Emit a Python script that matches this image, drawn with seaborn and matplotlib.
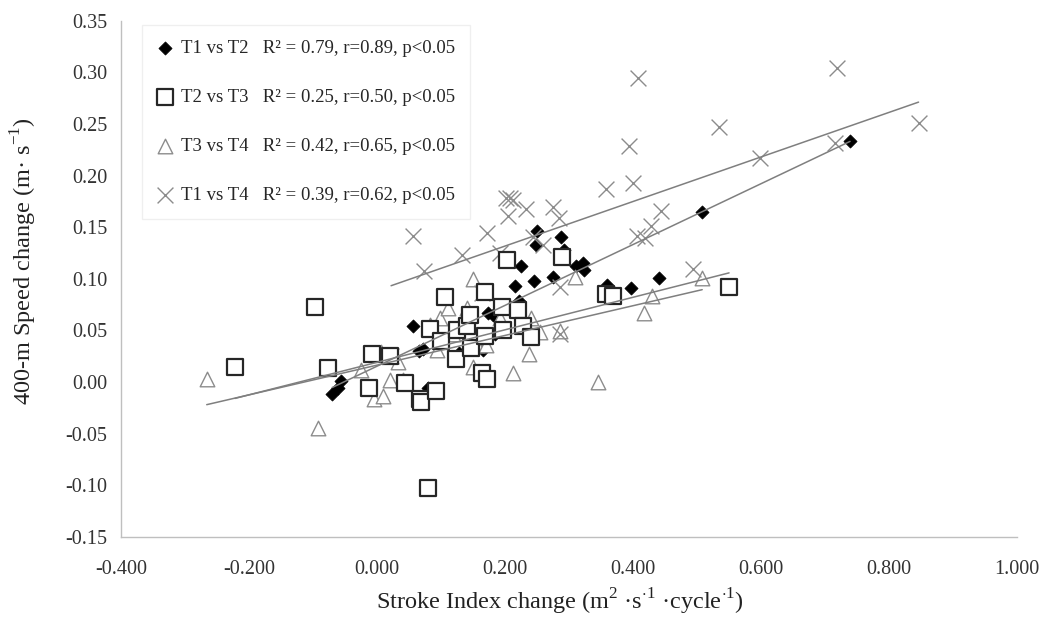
import matplotlib.pyplot as plt
import numpy as np
import pandas as pd
import seaborn as sns

# Values: stroke index change (x) vs 400-m speed change (y)
t12_x = [-0.070, -0.061, -0.056, 0.057, 0.066, 0.072, 0.080, 0.128, 0.165, 0.173,
         0.181, 0.184, 0.216, 0.222, 0.225, 0.245, 0.248, 0.250, 0.275, 0.287,
         0.292, 0.311, 0.322, 0.323, 0.359, 0.397, 0.441, 0.508, 0.739]
t12_y = [-0.012, -0.006, 0.001, 0.054, 0.030, 0.032, -0.006, 0.028, 0.031, 0.067,
         0.065, 0.047, 0.093, 0.079, 0.112, 0.098, 0.133, 0.146, 0.102, 0.141,
         0.128, 0.112, 0.115, 0.109, 0.094, 0.091, 0.101, 0.165, 0.234]

t23_x = [-0.222, -0.097, -0.077, -0.008, -0.012, 0.020, 0.044, 0.067, 0.069, 0.092,
         0.083, 0.100, 0.106, 0.123, 0.125, 0.140, 0.145, 0.147, 0.164, 0.172,
         0.169, 0.169, 0.080, 0.195, 0.197, 0.203, 0.220, 0.228, 0.241, 0.289,
         0.358, 0.369, 0.550]
t23_y = [0.015, 0.073, 0.014, 0.027, -0.006, 0.025, -0.001, -0.016, -0.019, -0.009,
         0.051, 0.040, 0.082, 0.022, 0.050, 0.054, 0.065, 0.033, 0.009, 0.003,
         0.087, 0.045, -0.103, 0.073, 0.050, 0.118, 0.070, 0.054, 0.044, 0.121,
         0.085, 0.083, 0.092]

t34_x = [-0.266, -0.092, -0.025, -0.005, 0.006, 0.009, 0.020, 0.033, 0.041, 0.083,
         0.094, 0.098, 0.111, 0.119, 0.141, 0.150, 0.150, 0.156, 0.170, 0.192,
         0.212, 0.238, 0.241, 0.255, 0.286, 0.309, 0.346, 0.417, 0.430, 0.508]
t34_y = [0.003, -0.045, 0.012, -0.016, 0.029, -0.014, 0.002, 0.019, 0.002, 0.055,
         0.031, 0.062, 0.072, 0.047, 0.072, 0.100, 0.015, 0.036, 0.036, 0.062,
         0.009, 0.027, 0.062, 0.048, 0.049, 0.102, 0.000, 0.067, 0.083, 0.101]

# first cross sits hidden under a square (the trendline starts there)
t14_x = [0.022, 0.056, 0.073, 0.133, 0.164, 0.172, 0.192, 0.202, 0.208, 0.213,
         0.205, 0.233, 0.244, 0.259, 0.275, 0.284, 0.286, 0.286, 0.358, 0.359,
         0.394, 0.400, 0.406, 0.408, 0.419, 0.428, 0.444, 0.494, 0.534, 0.598,
         0.716, 0.719, 0.846]
t14_y = [0.025, 0.142, 0.108, 0.123, 0.086, 0.144, 0.125, 0.178, 0.178, 0.176,
         0.161, 0.168, 0.141, 0.133, 0.170, 0.159, 0.092, 0.047, 0.187, 0.085,
         0.229, 0.193, 0.142, 0.295, 0.140, 0.151, 0.166, 0.110, 0.247, 0.217,
         0.232, 0.304, 0.251]

labels = ["T1 vs T2   R² = 0.79, r=0.89, p<0.05",
          "T2 vs T3   R² = 0.25, r=0.50, p<0.05",
          "T3 vs T4   R² = 0.42, r=0.65, p<0.05",
          "T1 vs T4   R² = 0.39, r=0.62, p<0.05"]

sns.set_theme(style="white")
plt.rcParams['font.family'] = ['Liberation Serif', 'DejaVu Serif']
plt.rcParams['mathtext.fontset'] = 'custom'
plt.rcParams['mathtext.rm'] = 'Liberation Serif'
plt.rcParams['axes.unicode_minus'] = False

fig = plt.figure(figsize=(10.4, 6.33), dpi=100)
ax = fig.add_axes([0.1163, 0.152, 0.8617, 0.815])

# marker styles per series
styles = [
    dict(marker='D', s=45, color='black', edgecolor='black', linewidth=0.5, zorder=3),
    dict(marker='s', s=125, facecolor='white', edgecolor='#262626', linewidth=1.6, zorder=5),
    dict(marker='^', s=110, facecolor='white', edgecolor='#8c8c8c', linewidth=1.0, zorder=4),
    dict(marker='x', s=130, color='#8c8c8c', linewidth=1.0, zorder=4.5),
]
series = [(t12_x, t12_y), (t23_x, t23_y), (t34_x, t34_y), (t14_x, t14_y)]

for (xs, ys), lab, st in zip(series, labels, styles):
    sns.scatterplot(x=xs, y=ys, ax=ax, label=lab, **st)
    sns.regplot(x=np.array(xs), y=np.array(ys), ax=ax, scatter=False, ci=None,
                color='#7f7f7f', line_kws=dict(lw=1.1, zorder=7))

ax.set_xlim(-0.4, 1.0)
ax.set_ylim(-0.15, 0.35)
ax.set_xticks(np.arange(-0.4, 1.01, 0.2))
ax.set_yticks(np.arange(-0.15, 0.351, 0.05))
ax.set_xticklabels([f"{v:.3f}" for v in np.arange(-0.4, 1.01, 0.2)])
ax.set_yticklabels([f"{v:.2f}" for v in np.arange(-0.15, 0.351, 0.05)])

sns.despine(ax=ax)
for sp in ['left', 'bottom']:
    ax.spines[sp].set_color('#bfbfbf')
    ax.spines[sp].set_linewidth(1)
ax.tick_params(axis='both', direction='out', length=5, width=1, color='#bfbfbf',
               labelsize=14.5, labelcolor='#333333', pad=5)
ax.tick_params(axis='x', pad=12)

ax.set_xlabel(r"Stroke Index change (m$^{2}$ ·s$^{\cdot1}$ ·cycle$^{\cdot1}$)",
              fontsize=17.5, color='#222222')
ax.set_ylabel(r"400-m Speed change (m· s$^{-1}$)", fontsize=17.5, color='#222222')
ax.xaxis.set_label_coords(0.49, -0.097)
ax.yaxis.set_label_coords(-0.092, 0.535)

leg = ax.legend(loc='upper left', bbox_to_anchor=(0.024, 0.993), borderaxespad=0,
                frameon=True, fancybox=False, edgecolor='#ececec', fontsize=13.5,
                labelspacing=1.7, handletextpad=0.45, handlelength=0.8, borderpad=0.8)
leg.get_frame().set_linewidth(1)

fig.savefig('out.png', dpi=100)
